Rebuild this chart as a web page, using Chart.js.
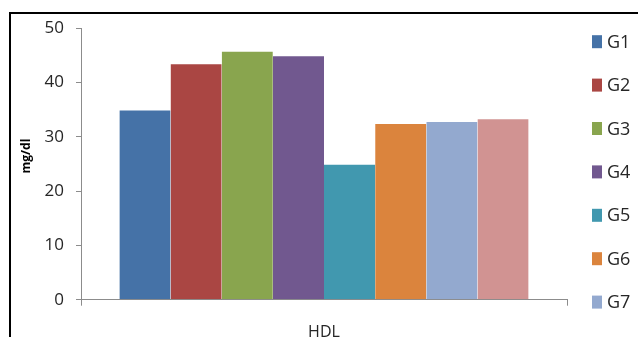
<!DOCTYPE html>
<html>
<head>
<meta charset="utf-8">
<script src="https://cdn.jsdelivr.net/npm/chart.js@4/dist/chart.umd.min.js"></script>
<style>
  html, body { margin: 0; padding: 0; background: #fff; overflow: hidden; }
  #wrap { width: 638px; height: 337px; position: relative; }
</style>
</head>
<body>
<div id="wrap"><canvas id="c" width="638" height="337"></canvas></div>
<script>
// HDL level (mg/dl) per group
const categories = ['HDL'];
const groups = ['G1', 'G2', 'G3', 'G4', 'G5', 'G6', 'G7', 'G8'];
const hdlValues = [35, 43.5, 45.8, 45, 25, 32.5, 32.9, 33.4];
const groupColors = ['#4572A7', '#AA4643', '#89A54E', '#71588F', '#4198AF', '#DB843D', '#93A9CF', '#D19392'];
const yTicks = [0, 10, 20, 30, 40, 50];

const FONT = "'Open Sans', 'Noto Sans', sans-serif";
const TEXT = '#262626';
const AXIS = '#8c8c8c';

// Black frame around the chart area (top and left edges)
const framePlugin = {
  id: 'frame',
  afterDraw(chart) {
    const ctx = chart.ctx;
    ctx.save();
    ctx.fillStyle = '#000';
    ctx.fillRect(9, 12, chart.width, 2);
    ctx.fillRect(9, 12, 2, chart.height);
    ctx.restore();
  }
};

// Vertical legend on the right, one swatch per group
const sideLegend = {
  id: 'sideLegend',
  afterDraw(chart) {
    const ctx = chart.ctx;
    const x0 = 592, y0 = 41.7, step = 43.4;
    ctx.save();
    ctx.font = '18px ' + FONT;
    ctx.textBaseline = 'middle';
    ctx.textAlign = 'left';
    chart.data.datasets.forEach((ds, i) => {
      const cy = y0 + i * step;
      ctx.fillStyle = ds.backgroundColor;
      ctx.fillRect(x0, cy - 6.5, 10, 13);
      ctx.fillStyle = TEXT;
      ctx.fillText(ds.label, x0 + 15, cy + 1);
    });
    ctx.restore();
  }
};

const datasets = groups.map((g, i) => ({
  label: g,
  data: [hdlValues[i]],
  backgroundColor: groupColors[i],
  borderColor: 'rgba(255,255,255,0.45)',
  borderWidth: { top: 1, left: 0, right: 0, bottom: 0 },
  borderSkipped: 'bottom',
  barPercentage: 1,
  categoryPercentage: 0.842
}));

new Chart(document.getElementById('c'), {
  type: 'bar',
  data: { labels: categories, datasets },
  plugins: [framePlugin, sideLegend],
  options: {
    responsive: false,
    animation: false,
    devicePixelRatio: 1,
    layout: { padding: { left: 12, top: 28, right: 71, bottom: 0 } },
    plugins: {
      legend: { display: false },
      tooltip: { enabled: false }
    },
    scales: {
      x: {
        afterFit(axis) { axis.height = 37.3; },
        grid: {
          offset: true,
          drawOnChartArea: false,
          drawTicks: true,
          tickLength: 6,
          color: AXIS
        },
        border: { color: AXIS, width: 1 },
        ticks: {
          color: TEXT,
          font: { family: FONT, size: 16 },
          padding: 17
        }
      },
      y: {
        min: 0,
        max: 50,
        afterFit(axis) { axis.width = 69; },
        afterBuildTicks(axis) { axis.ticks = yTicks.map(v => ({ value: v })); },
        grid: {
          drawOnChartArea: false,
          drawTicks: true,
          tickLength: 5,
          color: AXIS
        },
        border: { color: AXIS, width: 1 },
        ticks: {
          color: TEXT,
          font: { family: FONT, size: 17 },
          padding: 12
        },
        title: {
          display: true,
          text: '     mg/dl',
          color: '#000',
          font: { family: FONT, size: 12, weight: 'bold' },
          padding: { top: 7, bottom: 0 }
        }
      }
    }
  }
});
</script>
</body>
</html>
